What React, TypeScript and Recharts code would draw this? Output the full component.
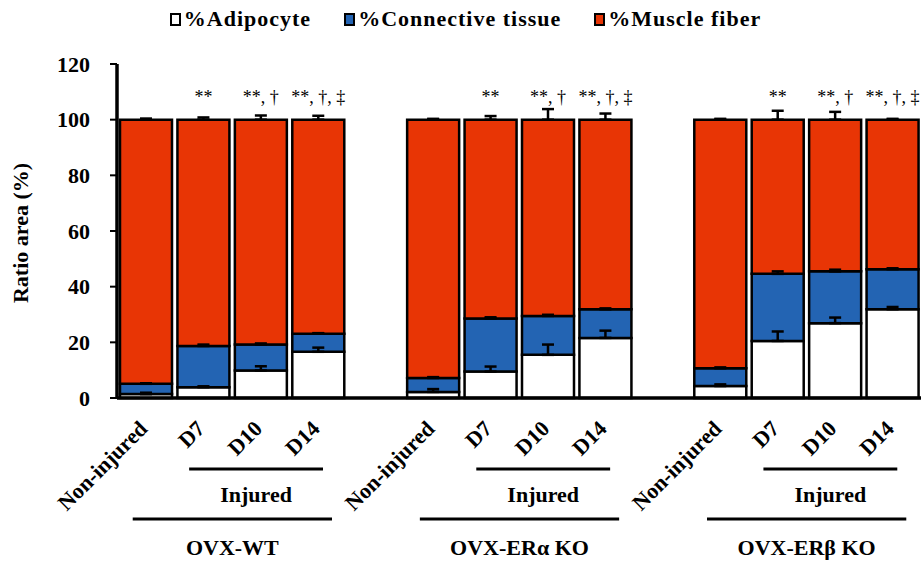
import { BarChart, Bar, XAxis, YAxis, ErrorBar, LabelList, Legend, Label } from 'recharts';

const FONT = "'Liberation Serif', 'Liberation Sans', Arial, sans-serif";

const groups = ['OVX-WT', 'OVX-ERα KO', 'OVX-ERβ KO'];
const conditions = ['Non-injured', 'D7', 'D10', 'D14'];
const significance = ['', '**', '**, †', '**, †, ‡'];

// % of area, one row per group, columns follow `conditions`
const adipocyte = [
  [1.4, 3.9, 9.9, 16.6],
  [2.2, 9.5, 15.5, 21.6],
  [4.3, 20.5, 26.9, 31.9],
];
const connective = [
  [3.7, 14.8, 9.3, 6.5],
  [5.0, 19.1, 14.0, 10.3],
  [6.4, 24.1, 18.6, 14.4],
];
const muscle = [
  [94.9, 81.3, 80.8, 76.9],
  [92.8, 71.4, 70.5, 68.1],
  [89.3, 55.4, 54.5, 53.7],
];

// SD, drawn upward only
const adipocyteSd = [
  [0.5, 0.3, 1.5, 1.5],
  [1.0, 1.8, 3.7, 2.6],
  [0.6, 3.4, 2.0, 0.8],
];
const connectiveSd = [
  [0.2, 0.5, 0.4, 0.2],
  [0.3, 0.4, 0.4, 0.3],
  [0.3, 0.9, 0.6, 0.3],
];
const muscleSd = [
  [0.4, 0.8, 1.5, 1.4],
  [0.3, 1.3, 3.8, 2.2],
  [0.3, 3.2, 2.8, 0.3],
];

const series = [
  { key: 'adipocyte', name: '%Adipocyte', color: '#ffffff' },
  { key: 'connective', name: '%Connective tissue', color: '#2364b3' },
  { key: 'muscle', name: '%Muscle fiber', color: '#e83505' },
];

type Row = {
  key: string;
  label: string;
  group: number;
  pos: number;
  [k: string]: any;
};

// one empty slot between groups
const rows: Row[] = [];
groups.forEach((g, gi) => {
  if (gi > 0) rows.push({ key: `gap-${gi}`, label: '', group: gi, pos: -1 });
  conditions.forEach((c, ci) => {
    rows.push({
      key: `${gi}-${ci}`,
      label: c,
      group: gi,
      pos: ci,
      adipocyte: adipocyte[gi][ci],
      connective: connective[gi][ci],
      muscle: muscle[gi][ci],
      adipocyteErr: [0, adipocyteSd[gi][ci]],
      connectiveErr: [0, connectiveSd[gi][ci]],
      muscleErr: [0, muscleSd[gi][ci]],
      sig: significance[ci],
    });
  });
});

const WIDTH = 924;
const HEIGHT = 563;
const Y_AXIS_W = 117;
const MARGIN = { top: 64, right: 3, bottom: 0, left: 0 };
const SLOT = (WIDTH - Y_AXIS_W - MARGIN.right) / rows.length;

const AxisTick = (props: any) => {
  const { x, y, payload } = props;
  const row = rows.find((r) => r.key === payload?.value);
  if (!row || !row.label) return null;
  const ax = x + 3;
  const ay = y + 32;
  const parts: any[] = [
    <text key="t" x={ax} y={ay} transform={`rotate(-45, ${ax}, ${ay})`} textAnchor="end">
      {row.label}
    </text>,
  ];
  if (row.pos === 1) {
    const x1 = x - 14;
    const x2 = x + 2 * SLOT + 5;
    parts.push(
      <line key="il" x1={x1} x2={x2} y1={y + 71} y2={y + 71} stroke="#000" strokeWidth={3} />,
      <text key="it" x={(x1 + x2) / 2} y={y + 104} textAnchor="middle">
        Injured
      </text>
    );
  }
  if (row.pos === 0) {
    const x1 = x - 13;
    const x2 = x + 3 * SLOT + 14;
    parts.push(
      <line key="gl" x1={x1} x2={x2} y1={y + 121} y2={y + 121} stroke="#000" strokeWidth={3} />,
      <text key="gt" x={(x1 + x2) / 2} y={y + 157} textAnchor="middle">
        {groups[row.group]}
      </text>
    );
  }
  return (
    <g fontFamily={FONT} fontWeight="bold" fontSize={22} fill="#000">
      {parts}
    </g>
  );
};

const YTitle = (props: any) => {
  const vb = props.viewBox || {};
  const cy = (vb.y ?? 64) + (vb.height ?? 334) / 2 + 2;
  return (
    <text
      x={28}
      y={cy}
      transform={`rotate(-90, 28, ${cy})`}
      textAnchor="middle"
      fontFamily={FONT}
      fontWeight="bold"
      fontSize={22}
      fill="#000"
    >
      Ratio area (%)
    </text>
  );
};

const SigLabel = (props: any) => {
  const { x, y, width, value } = props;
  if (!value) return null;
  return (
    <text x={x + width / 2} y={y - 17} textAnchor="middle" fontFamily={FONT} fontSize={18} fill="#000">
      {value}
    </text>
  );
};

const LegendContent = () => (
  <div
    style={{
      display: 'flex',
      justifyContent: 'center',
      alignItems: 'center',
      gap: 33,
      paddingLeft: 7,
      fontFamily: FONT,
      fontWeight: 'bold',
      fontSize: 22,
      letterSpacing: 1,
      lineHeight: '26px',
      color: '#000',
    }}
  >
    {series.map((s) => (
      <div key={s.key} style={{ display: 'flex', alignItems: 'center' }}>
        <span
          style={{
            display: 'inline-block',
            width: 11,
            height: 13,
            boxSizing: 'border-box',
            border: '2px solid #000',
            background: s.color,
            marginRight: 3,
          }}
        />
        <span>{s.name}</span>
      </div>
    ))}
  </div>
);

const errAccessor = (k: string) => (d: any) => (d && d.payload ? d.payload : d)?.[`${k}Err`];

export default function App() {
  return (
    <div style={{ position: 'absolute', left: 0, top: 0, background: '#fff', fontFamily: FONT }}>
      <BarChart width={WIDTH} height={HEIGHT} data={rows} margin={MARGIN}>
        {series.map((s, i) => (
          <Bar
            key={s.key}
            dataKey={s.key}
            name={s.name}
            stackId="a"
            fill={s.color}
            stroke="#000"
            strokeWidth={2.5}
            barSize={52}
            isAnimationActive={false}
          >
            {i === series.length - 1 && <LabelList dataKey="sig" content={SigLabel} />}
          </Bar>
        ))}
        {/* same stack again, invisible, so the error bars sit above every segment */}
        {series.map((s) => (
          <Bar
            key={`${s.key}-err`}
            xAxisId="err"
            dataKey={s.key}
            stackId="err"
            fill="none"
            stroke="none"
            barSize={52}
            legendType="none"
            isAnimationActive={false}
          >
            <ErrorBar dataKey={errAccessor(s.key)} width={6} stroke="#000" strokeWidth={2.5} direction="y" />
          </Bar>
        ))}
        <XAxis
          dataKey="key"
          interval={0}
          tickLine={false}
          tickSize={0}
          tickMargin={0}
          height={165}
          axisLine={{ stroke: '#000', strokeWidth: 3.5 }}
          tick={(p: any) => <AxisTick {...p} />}
        />
        <XAxis xAxisId="err" dataKey="key" hide />
        <YAxis
          width={Y_AXIS_W}
          domain={[0, 120]}
          ticks={[0, 20, 40, 60, 80, 100, 120]}
          interval={0}
          tickSize={7}
          tickMargin={20}
          tickLine={{ stroke: '#000', strokeWidth: 2 }}
          axisLine={{ stroke: '#000', strokeWidth: 3.5 }}
          tick={{ fontSize: 22, fontFamily: FONT, fontWeight: 'bold', fill: '#000' }}
        >
          <Label content={YTitle} />
        </YAxis>
        <Legend
          verticalAlign="middle"
          wrapperStyle={{ top: 6, left: 0, width: WIDTH }}
          content={LegendContent}
        />
      </BarChart>
    </div>
  );
}
